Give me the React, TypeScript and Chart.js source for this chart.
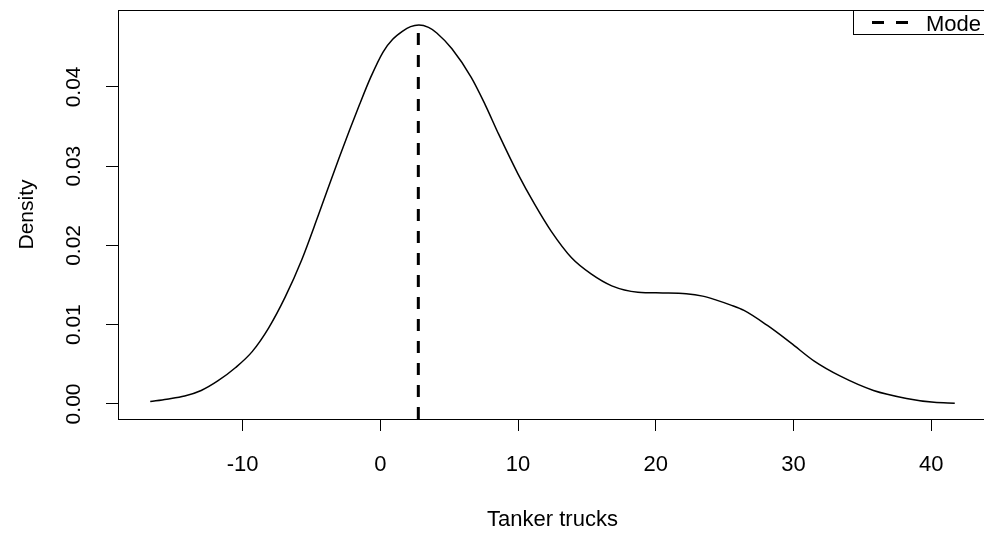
import { useEffect, useRef } from "react";
import { Chart, registerables } from "chart.js";

Chart.register(...registerables);

// Kernel density estimate of tanker trucks
const densityX = [
  -16.7, -15.5, -14.2, -13.0, -11.8, -10.5, -9.3, -8.1, -6.9, -5.7, -4.5, -3.0, -1.5, -0.7, 0.2, 0.9, 1.6, 2.2,
  2.8, 3.5, 4.1, 5.2, 6.6, 7.6, 8.6, 10.0, 11.2, 12.4, 13.9, 15.3, 16.8, 18.7, 20.5, 22.2, 23.4, 24.4, 25.4,
  26.4, 28.1, 29.8, 31.5, 33.4, 35.8, 38.2, 40.2, 41.7,
];
const densityY = [
  0.0003, 0.0006, 0.001, 0.0017, 0.0029, 0.0046, 0.0066, 0.0096, 0.0135, 0.0182, 0.0238, 0.031, 0.0378, 0.0412,
  0.0444, 0.046, 0.047, 0.0476, 0.0478, 0.0475, 0.0468, 0.0448, 0.0412, 0.0378, 0.034, 0.029, 0.0252, 0.0218,
  0.0184, 0.0164, 0.0149, 0.0141, 0.014, 0.0139, 0.0136, 0.0131, 0.0125, 0.0118, 0.0099, 0.0077, 0.0054,
  0.0035, 0.0017, 0.0007, 0.0002, 0.0001,
];

// Mode marker
const modeX = [2.76, 2.76];
const modeY = [-0.0019, 0.0478];
const modeLabel = "Mode";

// Axes
const xTicks = [-10, 0, 10, 20, 30, 40];
const yTicks = [0, 0.01, 0.02, 0.03, 0.04];
const xLimits = [-19.04, 44.04];
const yLimits = [-0.0019, 0.0497];
const xTitle = "Tanker trucks";
const yTitle = "Density";

const FONT = "'Liberation Sans', Arial, sans-serif";

const boxPlugin = {
  id: "rbox",
  afterDraw(chart: any) {
    const { ctx, chartArea } = chart;
    const l = Math.round(chartArea.left) + 0.5;
    const t = Math.round(chartArea.top) + 0.5;
    const r = Math.round(chartArea.right) + 0.5;
    const b = Math.round(chartArea.bottom) + 0.5;
    ctx.save();
    ctx.strokeStyle = "#000";
    ctx.lineWidth = 1;
    ctx.beginPath();
    ctx.moveTo(l, t);
    ctx.lineTo(r, t);
    ctx.lineTo(r, b);
    ctx.stroke();

    // legend box (top-right, like R's legend("topright"))
    const ds = chart.data.datasets[1];
    const lx = 853.5;
    const ly = t;
    const lh = 24;
    ctx.fillStyle = "#fff";
    ctx.fillRect(lx, ly, 200, lh);
    ctx.strokeRect(lx, ly, 200, lh);
    ctx.beginPath();
    ctx.setLineDash([12, 12]);
    ctx.lineWidth = 3;
    ctx.moveTo(872, ly + 12);
    ctx.lineTo(908, ly + 12);
    ctx.stroke();
    ctx.setLineDash([]);
    ctx.fillStyle = "#000";
    ctx.font = `22px ${FONT}`;
    ctx.textBaseline = "middle";
    ctx.textAlign = "left";
    ctx.fillText(ds.label, 926, ly + 14);
    ctx.restore();
  },
};

export default function App() {
  const ref = useRef<HTMLCanvasElement | null>(null);

  useEffect(() => {
    if (!ref.current) return;
    const chart = new Chart(ref.current, {
      type: "scatter",
      data: {
        datasets: [
          {
            label: "Density",
            data: densityX.map((x, i) => ({ x, y: densityY[i] })),
            showLine: true,
            borderColor: "#000",
            borderWidth: 1.5,
            pointRadius: 0,
            cubicInterpolationMode: "monotone",
          },
          {
            label: modeLabel,
            data: modeX.map((x, i) => ({ x, y: modeY[i] })),
            showLine: true,
            borderColor: "#000",
            borderWidth: 3,
            borderDash: [12, 10],
            pointRadius: 0,
          },
        ],
      },
      options: {
        responsive: false,
        animation: false,
        layout: { padding: { left: 0, right: 13, top: 10, bottom: 0 } },
        plugins: { legend: { display: false }, tooltip: { enabled: false } },
        scales: {
          x: {
            type: "linear",
            min: xLimits[0],
            max: xLimits[1],
            afterBuildTicks: (s: any) => {
              s.ticks = xTicks.map((v) => ({ value: v }));
            },
            afterFit: (s: any) => {
              s.height = 114;
              s.paddingLeft = 0;
              s.paddingRight = 0;
            },
            grid: { drawOnChartArea: false, drawTicks: true, tickLength: 12, color: "#000", lineWidth: 1 },
            border: { display: true, color: "#000", width: 1 },
            ticks: {
              color: "#000",
              font: { family: FONT, size: 22 },
              padding: 21,
              maxRotation: 0,
              autoSkip: false,
              callback: (v: any) => String(v),
            },
            title: { display: true, text: xTitle, color: "#000", font: { family: FONT, size: 22 }, padding: { top: 0, bottom: 0 } },
          },
          y: {
            type: "linear",
            min: yLimits[0],
            max: yLimits[1],
            afterBuildTicks: (s: any) => {
              s.ticks = yTicks.map((v) => ({ value: v }));
            },
            afterFit: (s: any) => {
              s.width = 118;
              s.paddingTop = 0;
              s.paddingBottom = 0;
            },
            grid: { drawOnChartArea: false, drawTicks: true, tickLength: 12, color: "#000", lineWidth: 1 },
            border: { display: true, color: "#000", width: 1 },
            ticks: {
              color: "#000",
              font: { family: FONT, size: 21 },
              padding: 11,
              minRotation: 90,
              maxRotation: 90,
              crossAlign: "center",
              autoSkip: false,
              callback: (v: any) => Number(v).toFixed(2),
            },
            title: { display: true, text: yTitle, color: "#000", font: { family: FONT, size: 21 }, padding: { top: 15, bottom: 0 } },
          },
        },
      },
      plugins: [boxPlugin],
    } as any);
    return () => chart.destroy();
  }, []);

  return (
    <div style={{ position: "fixed", left: 0, top: 0, width: 984, height: 533, overflow: "hidden", background: "#fff" }}>
      <canvas ref={ref} width={1000} height={533} style={{ display: "block" }} />
    </div>
  );
}
